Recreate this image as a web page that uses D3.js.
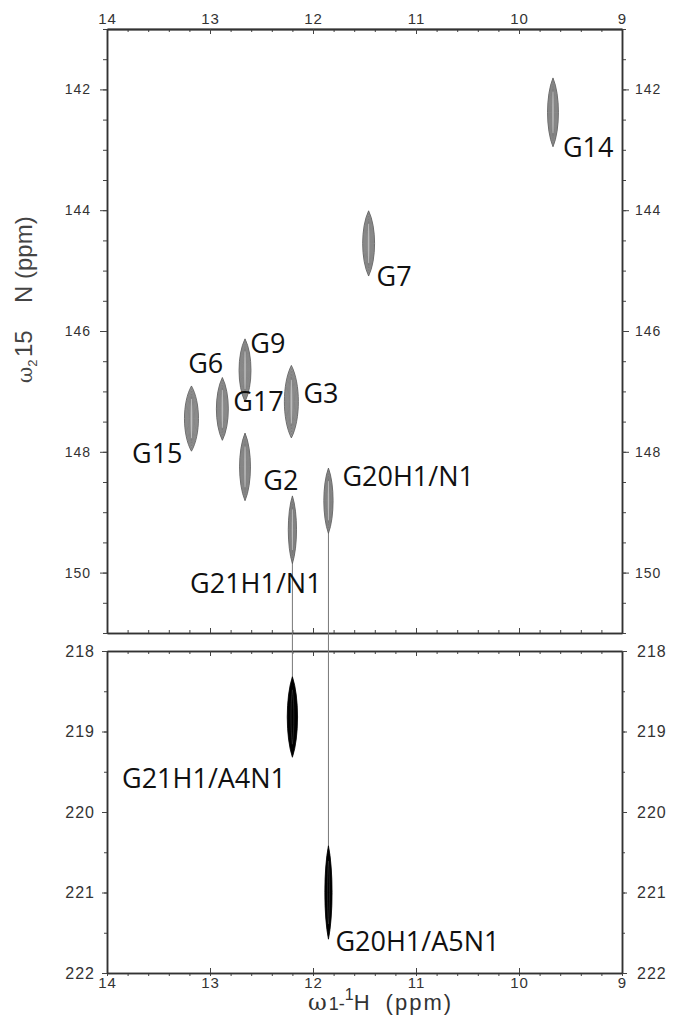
<!DOCTYPE html>
<html>
<head>
<meta charset="utf-8">
<script src="https://cdn.jsdelivr.net/npm/d3@7"></script>
<style>
  body { margin: 0; background: #fff; }
  svg { display: block; }
  .tick text { font-family: "Liberation Sans", Arial, sans-serif; fill: #333; letter-spacing: 1px; }
  .domain { stroke: #333; }
  .tick line { stroke: #444; }
  .lbl { font-family: "Open Sans", sans-serif; font-size: 27px; fill: #111; }
</style>
</head>
<body>
<div id="chart"></div>
<script>
// tick labels
var hTicks = [14, 13, 12, 11, 10, 9];
var nTopTicks = [142, 144, 146, 148, 150];
var nBotTicks = [218, 219, 220, 221, 222];

// 1H-15N peaks (upper panel)
var peakNames = ["G14", "G7", "G9", "G6", "G15", "G3", "G2", "G21H1/N1", "G20H1/N1"];
var peakH  = [9.67, 11.46, 12.66, 12.88, 13.18, 12.21, 12.66, 12.20, 11.85];
var peakN  = [142.38, 144.55, 146.65, 147.29, 147.45, 147.17, 148.25, 149.29, 148.81];
var peakDH = [0.053, 0.058, 0.058, 0.058, 0.068, 0.068, 0.053, 0.040, 0.045];
var peakDN = [0.57, 0.54, 0.52, 0.52, 0.54, 0.60, 0.56, 0.56, 0.54];

// cross peaks across the hydrogen bond (lower panel)
var crossNames = ["G21H1/A4N1", "G20H1/A5N1"];
var crossFrom  = ["G21H1/N1", "G20H1/N1"];
var crossH  = [12.20, 11.85];
var crossN  = [218.82, 221.0];
var crossDH = [0.05, 0.035];
var crossDN = [0.50, 0.58];

// label anchors (ppm)
var topLabels = ["G14", "G7", "G9", "G6", "G17", "G3", "G15", "G2", "G20H1/N1", "G21H1/N1"];
var topLabelH = [9.574, 11.383, 12.609, 13.212, 12.774, 12.093, 13.757, 12.483, 11.714, 13.193];
var topLabelN = [143.12, 145.26, 146.36, 146.70, 147.32, 147.19, 148.18, 148.64, 148.56, 150.34];
var botLabels = ["G21H1/A4N1", "G20H1/A5N1"];
var botLabelH = [13.854, 11.782];
var botLabelN = [219.70, 221.73];

var width = 673, height = 1019;
var svg = d3.select("#chart").append("svg").attr("width", width).attr("height", height);

var x = d3.scaleLinear().domain([14, 9]).range([107, 622]);
var yTop = d3.scaleLinear().domain([141, 151]).range([29, 633]);
var yBot = d3.scaleLinear().domain([218, 222]).range([651, 973]);
var fmt = d3.format("d");

function steps(a, b, s) {
    var out = [];
    for (var v = a; v <= b + 1e-9; v += s) out.push(+v.toFixed(3));
    return out;
}
var hMinor = steps(9, 14, 0.2);

// ---- axes ----
function minor(axis) { return axis.tickFormat("").tickSizeOuter(0); }

// top edge
svg.append("g").attr("transform", "translate(0,29)")
    .call(minor(d3.axisTop(x).tickValues(hMinor).tickSizeInner(-3)));
svg.append("g").attr("transform", "translate(0,29)")
    .call(d3.axisTop(x).tickValues(hTicks).tickFormat(fmt).tickSizeInner(-5).tickSizeOuter(0).tickPadding(5))
    .call(function(g) { g.selectAll("text").style("font-size", "15px"); g.select(".domain").attr("stroke-width", 2).attr("stroke", "#555"); });

// bottom of upper panel, top of lower panel
svg.append("g").attr("transform", "translate(0,633)")
    .call(minor(d3.axisBottom(x).tickValues(hMinor).tickSizeInner(-3)));
svg.append("g").attr("transform", "translate(0,633)")
    .call(minor(d3.axisBottom(x).tickValues(hTicks).tickSizeInner(-5)));
svg.append("g").attr("transform", "translate(0,651)")
    .call(minor(d3.axisTop(x).tickValues(hMinor).tickSizeInner(-3)));
svg.append("g").attr("transform", "translate(0,651)")
    .call(minor(d3.axisTop(x).tickValues(hTicks).tickSizeInner(-5)));

// bottom edge
svg.append("g").attr("transform", "translate(0,973)")
    .call(minor(d3.axisBottom(x).tickValues(hMinor).tickSizeInner(3)));
svg.append("g").attr("transform", "translate(0,973)")
    .call(d3.axisBottom(x).tickValues(hTicks).tickFormat(fmt).tickSizeInner(-5).tickSizeOuter(0).tickPadding(4))
    .call(function(g) { g.selectAll("text").style("font-size", "15px"); });

// upper panel sides
var nTopMinor = steps(141, 151, 0.5);
svg.append("g").attr("transform", "translate(107,0)")
    .call(minor(d3.axisLeft(yTop).tickValues(nTopMinor).tickSizeInner(4)));
svg.append("g").attr("transform", "translate(107,0)")
    .call(d3.axisLeft(yTop).tickValues(nTopTicks).tickFormat(fmt).tickSizeInner(7).tickSizeOuter(0).tickPadding(9))
    .call(function(g) { g.selectAll("text").style("font-size", "14px"); });
svg.append("g").attr("transform", "translate(622,0)")
    .call(minor(d3.axisRight(yTop).tickValues(nTopMinor).tickSizeInner(4)));
svg.append("g").attr("transform", "translate(622,0)")
    .call(d3.axisRight(yTop).tickValues(nTopTicks).tickFormat(fmt).tickSizeInner(7).tickSizeOuter(0).tickPadding(6))
    .call(function(g) { g.selectAll("text").style("font-size", "14px"); });

// lower panel sides
var nBotMinor = steps(218, 222, 0.5);
svg.append("g").attr("transform", "translate(107,0)")
    .call(minor(d3.axisLeft(yBot).tickValues(nBotMinor).tickSizeInner(3)));
svg.append("g").attr("transform", "translate(107,0)")
    .call(d3.axisLeft(yBot).tickValues(nBotTicks).tickFormat(fmt).tickSizeInner(5).tickSizeOuter(0).tickPadding(7))
    .call(function(g) { g.selectAll("text").style("font-size", "16px"); });
svg.append("g").attr("transform", "translate(622,0)")
    .call(minor(d3.axisRight(yBot).tickValues(nBotMinor).tickSizeInner(3)));
svg.append("g").attr("transform", "translate(622,0)")
    .call(d3.axisRight(yBot).tickValues(nBotTicks).tickFormat(fmt).tickSizeInner(5).tickSizeOuter(0).tickPadding(10))
    .call(function(g) { g.selectAll("text").style("font-size", "16px"); });

svg.selectAll(".domain").attr("stroke-width", function() { return d3.select(this).attr("stroke-width") || 1.5; });

// ---- connecting lines between the panels ----
crossNames.forEach(function(name, i) {
    var j = peakNames.indexOf(crossFrom[i]);
    svg.append("line")
        .attr("x1", x(crossH[i])).attr("x2", x(crossH[i]))
        .attr("y1", yTop(peakN[j] + peakDN[j] * 0.9))
        .attr("y2", yBot(crossN[i] - crossDN[i] * 0.9))
        .attr("stroke", "#777").attr("stroke-width", 1);
});

// ---- peaks ----
function lens(cx, cy, w, h) {
    var k = 4 / 3 * w;
    return "M" + cx + "," + (cy - h) +
        "C" + (cx + k) + "," + (cy - h / 2) + " " + (cx + k) + "," + (cy + h / 2) + " " + cx + "," + (cy + h) +
        "C" + (cx - k) + "," + (cy + h / 2) + " " + (cx - k) + "," + (cy - h / 2) + " " + cx + "," + (cy - h) + "Z";
}
var levels = [1, 0.82, 0.64, 0.46, 0.28];

function drawPeak(g, cx, cy, w, h, dark) {
    levels.forEach(function(s, li) {
        g.append("path")
            .attr("d", lens(cx, cy, w * s, h * (0.55 + 0.45 * s)))
            .attr("fill", li === 0 ? (dark ? "#000" : "#9c9c9c") : "none")
            .attr("stroke", dark ? (li > 3 ? "#444" : "#000") : (li === 0 ? "#555" : "#6e6e6e"))
            .attr("stroke-width", li === 0 ? 0.8 : 0.5);
    });
    if (!dark) {
        g.append("line")
            .attr("x1", cx).attr("x2", cx)
            .attr("y1", cy - h * 0.6).attr("y2", cy + h * 0.6)
            .attr("stroke", "#d8d8d8").attr("stroke-width", 0.6);
    }
}

var gPeaks = svg.append("g");
peakNames.forEach(function(name, i) {
    var cx = x(peakH[i]), cy = yTop(peakN[i]);
    var w = Math.abs(x(peakH[i] + peakDH[i]) - cx);
    var h = yTop(peakN[i] + peakDN[i]) - cy;
    drawPeak(gPeaks.append("g"), cx, cy, w, h, false);
});
crossNames.forEach(function(name, i) {
    var cx = x(crossH[i]), cy = yBot(crossN[i]);
    var w = Math.abs(x(crossH[i] + crossDH[i]) - cx);
    var h = yBot(crossN[i] + crossDN[i]) - cy;
    drawPeak(gPeaks.append("g"), cx, cy, w, h, true);
});

// ---- peak labels ----
svg.selectAll(".lblTop").data(topLabels).enter().append("text")
    .attr("class", "lbl")
    .attr("x", function(d, i) { return x(topLabelH[i]); })
    .attr("y", function(d, i) { return yTop(topLabelN[i]); })
    .text(function(d) { return d; });
svg.selectAll(".lblBot").data(botLabels).enter().append("text")
    .attr("class", "lbl")
    .attr("x", function(d, i) { return x(botLabelH[i]); })
    .attr("y", function(d, i) { return yBot(botLabelN[i]); })
    .text(function(d) { return d; });

// ---- axis titles ----
var yt = svg.append("g").attr("transform", "translate(32,0) rotate(-90)")
    .style("font-family", "Liberation Sans, Arial, sans-serif").style("font-size", "24px").style("fill", "#444");
var w2 = yt.append("text").attr("x", -383).attr("y", 0);
w2.append("tspan").style("font-family", "DejaVu Serif, serif").style("font-size", "20px").text("ω");
w2.append("tspan").style("font-size", "13px").attr("dy", 5).text("2");
yt.append("text").attr("x", -357).attr("y", 0).text("15");
yt.append("text").attr("x", -303).attr("y", 0).text("N (ppm)");

var xt = svg.append("text").attr("x", 308).attr("y", 1010)
    .style("font-family", "Liberation Sans, Arial, sans-serif").style("font-size", "22px").style("fill", "#333");
xt.append("tspan").style("font-family", "DejaVu Serif, serif").style("font-size", "23px").text("ω");
xt.append("tspan").style("font-size", "18px").attr("dx", 2).text("1-");
xt.append("tspan").style("font-size", "16px").attr("dy", -10).text("1");
xt.append("tspan").attr("dy", 10).text("H");
xt.append("tspan").attr("dx", 16).style("letter-spacing", "2px").text("(ppm)");
</script>
</body>
</html>
